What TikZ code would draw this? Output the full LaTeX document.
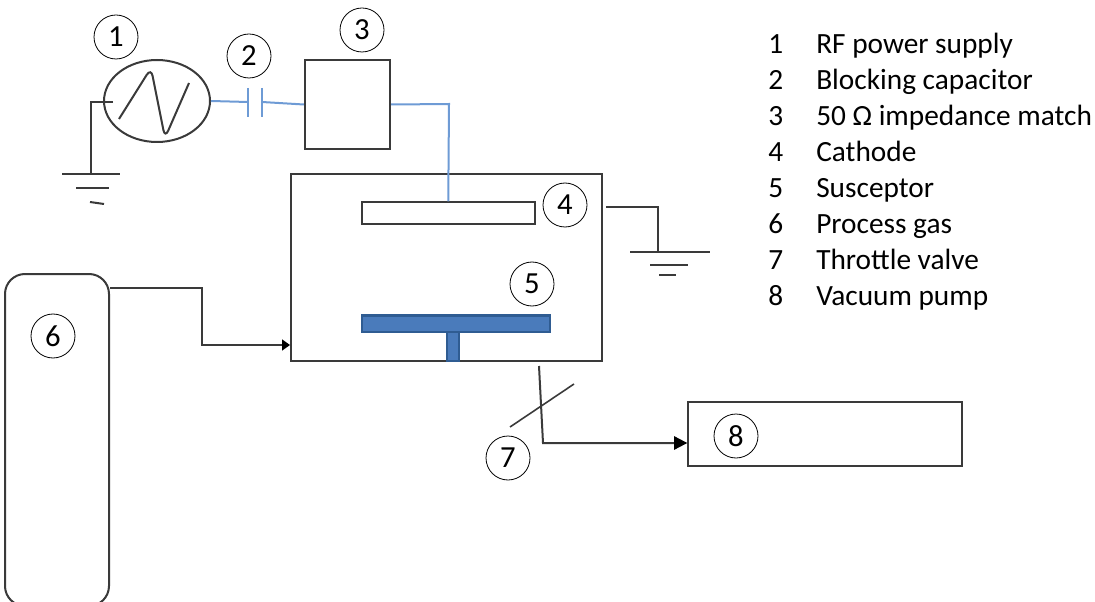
\documentclass[tikz,border=0pt]{standalone}
\usepackage{fontspec}
\setmainfont{Carlito}
\usepackage{xcolor}
\usetikzlibrary{shapes,arrows,positioning,calc,arrows.meta}
\definecolor{wire}{HTML}{3A3A3A}
\definecolor{rfline}{HTML}{6E9BD5}
\definecolor{susfill}{HTML}{4A7BBB}
\definecolor{susedge}{HTML}{2F5C92}

\begin{document}
\begin{tikzpicture}[x=0.75pt, y=-0.75pt,
        block/.style={draw=wire, line width=1.5pt, rectangle, inner sep=0pt},
        num/.style={draw=black, line width=0.6pt, circle, minimum size=33pt, inner sep=0pt, font=\fontsize{23}{27}\selectfont},
        legend/.style={anchor=base west, inner sep=0pt, font=\fontsize{22}{26}\selectfont},
        line/.style={draw=wire, line width=1.5pt},
        rf/.style={draw=rfline, line width=1.5pt},
        susc/.style={draw=susedge, fill=susfill, line width=1.6pt, rectangle, inner sep=0pt},
        >={Triangle[length=10pt, width=10pt, black]}
    ]
        \useasboundingbox (0,0) rectangle (1095,602);

        % source and matching box
        \node [block, ellipse, minimum width=79.5pt, minimum height=61.5pt] (src) at (157,101) {};
        \node [block, minimum width=64pt, minimum height=67pt] (match) at (347.5,104.5) {};
        \draw [line, rounded corners=6pt] (119,119) -- (151,68) -- (165,138) -- (189,83);

        % capacitor
        \coordinate (capa) at (248,102);
        \coordinate (capb) at (262,102);
        \draw [rf] (248,88) -- (248,117);
        \draw [rf] (262,88) -- (262,117);
        \draw [rf] (src.east) -- (capa);
        \draw [rf] (capb) -- (match.west);

        % chamber
        \node [block, minimum width=233.5pt, minimum height=140.5pt] (chamber) at (446.75,267.5) {};
        \node [block, minimum width=129.5pt, minimum height=16pt] (cathode) at (448.25,213) {};
        \draw [rf] (match.east) -- (449,104) -- (cathode.north);
        \node [susc, minimum width=8.6pt, minimum height=22pt] (stem) at (453,346.5) {};
        \node [susc, minimum width=141pt, minimum height=12.4pt] (susceptor) at (456,323.7) {};

        % grounds
        \coordinate (gndla) at (113,102);
        \coordinate (gndlb) at (91,174);
        \draw [line] (gndla) -- (91,102) -- (gndlb);
        \draw [line] (62,174) -- (120,174);
        \draw [line] (76,188) -- (109,188);
        \draw [line] (90,202) -- (104,204);
        \coordinate (gndra) at (606,207.5);
        \coordinate (gndrb) at (658,252);
        \draw [line] (gndra) -- (658,207.5) -- (gndrb);
        \draw [line] (630,252) -- (710,252);
        \draw [line] (650,265) -- (688,265);
        \draw [line] (659,275) -- (676,275);

        % gas and pump
        \node [block, rounded corners=15pt, minimum width=78pt, minimum height=249pt] (gas) at (57,440) {};
        \node [block, minimum width=205pt, minimum height=47.5pt] (pump) at (825,434) {};
        \coordinate (gasout) at (gas.east |- 0,288);
        \coordinate (gasin) at (chamber.west |- 0,345);
        \draw [-{Triangle[length=6pt, width=8pt, black]}, line] (gasout) -- (202,288) -- (202,345) -- (gasin);
        \coordinate (valvetop) at (539,366);
        \coordinate (pumpin) at (pump.west |- 0,443);
        \draw [->, line] (valvetop) -- (543,443) -- (pumpin);
        \coordinate (flapa) at (510,427);
        \coordinate (flapb) at (574,384);
        \draw [line, line width=1.2pt] (flapa) -- (flapb);

        % numbers
        \node [num] (n1) at (116,37) {1};
        \node [num] (n2) at (249,56) {2};
        \node [num] (n3) at (362,30) {3};
        \node [num] (n4) at (565,205) {4};
        \node [num] (n5) at (532,284) {5};
        \node [num] (n6) at (53,336) {6};
        \node [num] (n7) at (508,458) {7};
        \node [num] (n8) at (736,436) {8};

        % legend
        \node [legend] (l1) at (768,53.5) {1};
        \node [legend] (l2) at (768,89.5) {2};
        \node [legend] (l3) at (768,125.5) {3};
        \node [legend] (l4) at (768,161.5) {4};
        \node [legend] (l5) at (768,197.5) {5};
        \node [legend] (l6) at (768,233.5) {6};
        \node [legend] (l7) at (768,269.5) {7};
        \node [legend] (l8) at (768,305.5) {8};
        \node [legend] (t1) at (816,53.5) {RF power supply};
        \node [legend] (t2) at (816,89.5) {Blocking capacitor};
        \node [legend] (t3) at (816,125.5) {50 Ω impedance match};
        \node [legend] (t4) at (816,161.5) {Cathode};
        \node [legend] (t5) at (816,197.5) {Susceptor};
        \node [legend] (t6) at (816,233.5) {Process gas};
        \node [legend] (t7) at (816,269.5) {Throttle valve};
        \node [legend] (t8) at (816,305.5) {Vacuum pump};
    \end{tikzpicture}
\end{document}
